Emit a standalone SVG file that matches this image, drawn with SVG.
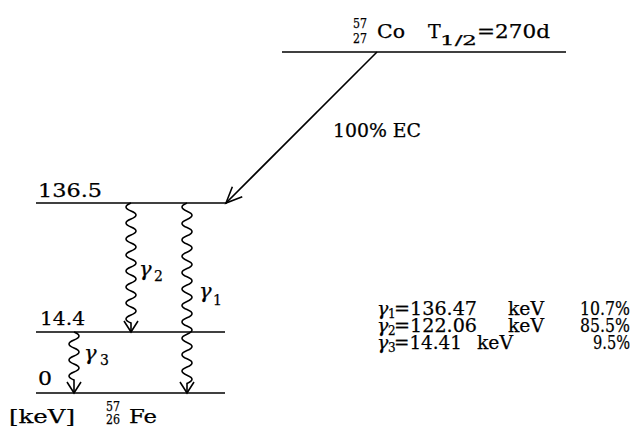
<svg xmlns="http://www.w3.org/2000/svg" width="637" height="432" viewBox="0 0 637 432">
<style>
.ln{stroke:#000;stroke-width:1.6;fill:none}
.t{font-family:"DejaVu Serif","Liberation Serif",serif;fill:#000;font-size:19px;stroke:#000;stroke-width:0.25}
.s{font-size:13px}
.g{font-style:italic;font-size:21px}
.gs{font-size:14px}
</style>
<defs>
<marker id="ah" markerUnits="userSpaceOnUse" orient="auto" refX="0" refY="0" markerWidth="30" markerHeight="30" viewBox="-20 -15 30 30" overflow="visible">
<path d="M-11,-7 L0,0 L-11,7" fill="none" stroke="#000" stroke-width="1.6"/>
</marker>
<marker id="ah2" markerUnits="userSpaceOnUse" orient="auto" refX="0" refY="0" markerWidth="40" markerHeight="40" viewBox="-20 -20 40 40" overflow="visible">
<path d="M-16,-7 L0,0 L-16,7" fill="none" stroke="#000" stroke-width="1.6"/>
</marker>
</defs>
<rect width="637" height="432" fill="#fff"/>
<g id="co57">
<line class="ln" x1="282" y1="52" x2="566" y2="52"/>
<text class="t s" x="353" y="28" textLength="14" lengthAdjust="spacingAndGlyphs">57</text>
<text class="t s" x="353" y="43" textLength="14" lengthAdjust="spacingAndGlyphs">27</text>
<text class="t" x="377" y="38" textLength="28" lengthAdjust="spacingAndGlyphs">Co</text>
<text class="t" x="428" y="38">T</text>
<text class="t s" x="440" y="45" textLength="37" lengthAdjust="spacingAndGlyphs">1/2</text>
<text class="t" x="477" y="38" textLength="73" lengthAdjust="spacingAndGlyphs">=270d</text>
</g>
<g id="level136">
<line class="ln" x1="36" y1="203" x2="227" y2="203"/>
<text class="t" x="38" y="197" textLength="64" lengthAdjust="spacingAndGlyphs">136.5</text>
</g>
<g id="level14">
<line class="ln" x1="36" y1="332" x2="225" y2="332"/>
<text class="t" x="40" y="325" textLength="45" lengthAdjust="spacingAndGlyphs">14.4</text>
</g>
<g id="level0">
<line class="ln" x1="36" y1="393" x2="225" y2="393"/>
<text class="t" x="38" y="385" textLength="14" lengthAdjust="spacingAndGlyphs">0</text>
<text class="t" x="9" y="423" textLength="66" lengthAdjust="spacingAndGlyphs">[keV]</text>
<text class="t s" x="106" y="411" textLength="14" lengthAdjust="spacingAndGlyphs">57</text>
<text class="t s" x="106" y="424" textLength="14" lengthAdjust="spacingAndGlyphs">26</text>
<text class="t" x="129" y="423" textLength="28" lengthAdjust="spacingAndGlyphs">Fe</text>
</g>
<g id="connectors">
<path class="ln" d="M377,52 L226,203" marker-end="url(#ah2)"/>
<text class="t" x="333" y="137" textLength="88" lengthAdjust="spacingAndGlyphs">100% EC</text>
<path class="ln" d="M131,203 q-10,4 0,8 t0,8 t0,8 t0,8 t0,8 t0,8 t0,8 t0,8 t0,8 t0,8 t0,8 t0,8 t0,8 t0,8 t0,8 L131,332" marker-end="url(#ah)"/>
<path class="ln" d="M187,203 q-10,4.1 0,8.2 t0,8.2 t0,8.2 t0,8.2 t0,8.2 t0,8.2 t0,8.2 t0,8.2 t0,8.2 t0,8.2 t0,8.2 t0,8.2 t0,8.2 t0,8.2 t0,8.2 t0,8.2 t0,8.2 t0,8.2 t0,8.2 t0,8.2 t0,8.2 t0,8.2 L187,393" marker-end="url(#ah)"/>
<path class="ln" d="M74,332 q10,4 0,8 t0,8 t0,8 t0,8 t0,8 t0,8 L74,393" marker-end="url(#ah)"/>
<text class="t g" x="139" y="276">γ</text><text class="t gs" x="154" y="281">2</text>
<text class="t g" x="199" y="298">γ</text><text class="t gs" x="213" y="305">1</text>
<text class="t g" x="84" y="360">γ</text><text class="t gs" x="100" y="365">3</text>
</g>
<g id="table">
<text class="t g" x="377" y="315" style="font-size:19px">γ</text><text class="t" x="388" y="318" style="font-size:12px">1</text>
<text class="t" x="394" y="315" textLength="83" lengthAdjust="spacingAndGlyphs">=136.47</text>
<text class="t" x="508" y="315" textLength="36" lengthAdjust="spacingAndGlyphs">keV</text>
<text class="t" x="580" y="315" textLength="50" lengthAdjust="spacingAndGlyphs">10.7%</text>
<text class="t g" x="377" y="332" style="font-size:19px">γ</text><text class="t" x="388" y="335" style="font-size:12px">2</text>
<text class="t" x="394" y="332" textLength="83" lengthAdjust="spacingAndGlyphs">=122.06</text>
<text class="t" x="508" y="332" textLength="36" lengthAdjust="spacingAndGlyphs">keV</text>
<text class="t" x="580" y="332" textLength="50" lengthAdjust="spacingAndGlyphs">85.5%</text>
<text class="t g" x="377" y="349" style="font-size:19px">γ</text><text class="t" x="388" y="352" style="font-size:12px">3</text>
<text class="t" x="394" y="349" textLength="68" lengthAdjust="spacingAndGlyphs">=14.41</text>
<text class="t" x="477" y="349" textLength="36" lengthAdjust="spacingAndGlyphs">keV</text>
<text class="t" x="593" y="349" textLength="37" lengthAdjust="spacingAndGlyphs">9.5%</text>
</g>
</svg>
